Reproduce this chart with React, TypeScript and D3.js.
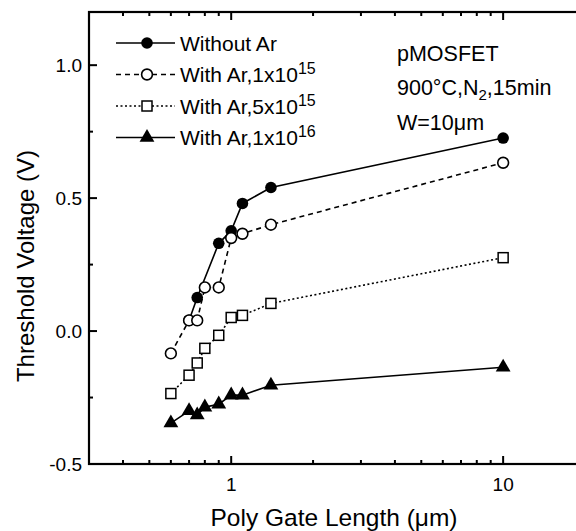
import React from "react";
import * as d3 from "d3";

const lenWithout = [0.7, 0.75, 0.9, 1.0, 1.1, 1.4, 10];
const vtWithout = [0.04, 0.126, 0.33, 0.377, 0.48, 0.54, 0.726];

const lenAr1e15 = [0.6, 0.7, 0.75, 0.8, 0.9, 1.0, 1.1, 1.4, 10];
const vtAr1e15 = [-0.084, 0.04, 0.04, 0.164, 0.164, 0.35, 0.366, 0.4, 0.633];

const lenAr5e15 = [0.6, 0.7, 0.75, 0.8, 0.9, 1.0, 1.1, 1.4, 10];
const vtAr5e15 = [-0.235, -0.166, -0.12, -0.065, -0.016, 0.051, 0.059, 0.104, 0.276];

const lenAr1e16 = [0.6, 0.7, 0.75, 0.8, 0.9, 1.0, 1.1, 1.4, 10];
const vtAr1e16 = [-0.346, -0.3, -0.316, -0.286, -0.275, -0.241, -0.241, -0.204, -0.136];

const yTicks = [-0.5, 0.0, 0.5, 1.0];
const yMinor = [-0.25, 0.25, 0.75];
const xTicks = [1, 10];
const xMinor = [0.4, 0.5, 0.6, 0.7, 0.8, 0.9, 2, 3, 4, 5, 6, 7, 8, 9];

const legendLabels = ["Without Ar", "With Ar,1x10", "With Ar,5x10", "With Ar,1x10"];
const legendSup = ["", "15", "15", "16"];

const W = 576, H = 531;
const left = 89, right = 585, top = 12, bottom = 464;
const font = "'Liberation Sans', Arial, sans-serif";

export default function App() {
  const x = d3.scaleLog().domain([0.3, 20]).range([left, right]);
  const y = d3.scaleLinear().domain([-0.5, 1.2]).range([bottom, top]);
  const line = d3.line<[number, number]>().x(d => x(d[0])).y(d => y(d[1]));

  const series = [
    { L: lenWithout, V: vtWithout, marker: "fcircle", dash: "none" },
    { L: lenAr1e15, V: vtAr1e15, marker: "ocircle", dash: "5,4" },
    { L: lenAr5e15, V: vtAr5e15, marker: "square", dash: "2,2.5" },
    { L: lenAr1e16, V: vtAr1e16, marker: "triangle", dash: "none" },
  ];

  const marker = (type: string, cx: number, cy: number, key: any) => {
    if (type === "fcircle") return <circle key={key} cx={cx} cy={cy} r={5.8} fill="#000" />;
    if (type === "ocircle") return <circle key={key} cx={cx} cy={cy} r={5.4} fill="#fff" stroke="#000" strokeWidth={1.6} />;
    if (type === "square") return <rect key={key} x={cx - 5} y={cy - 5} width={10} height={10} fill="#fff" stroke="#000" strokeWidth={1.5} />;
    const tri = d3.symbol().type(d3.symbolTriangle).size(95)();
    return <path key={key} d={tri as string} transform={`translate(${cx},${cy})`} fill="#000" />;
  };

  return (
    <svg width={W} height={H} style={{ position: "absolute", left: 0, top: 0, background: "#fff" }} fontFamily={font}>
      <rect x={0} y={0} width={W} height={H} fill="#fff" />
      {series.map((s, i) => (
        <path key={"l" + i} d={line(s.L.map((l, j) => [l, s.V[j]] as [number, number])) as string}
          fill="none" stroke="#000" strokeWidth={1.6} strokeDasharray={s.dash} />
      ))}
      {series.map((s, i) => s.L.map((l, j) => marker(s.marker, x(l), y(s.V[j]), `m${i}-${j}`)))}

      <rect x={left} y={top} width={right - left} height={bottom - top} fill="none" stroke="#000" strokeWidth={2.2} />
      {yTicks.map(t => (
        <g key={"yt" + t}>
          <line x1={left} x2={left + 8} y1={y(t)} y2={y(t)} stroke="#000" strokeWidth={2} />
          <line x1={right} x2={right - 8} y1={y(t)} y2={y(t)} stroke="#000" strokeWidth={2} />
          <text x={left - 7} y={y(t)} dy="0.35em" textAnchor="end" fontSize={19}>{t.toFixed(1)}</text>
        </g>
      ))}
      {yMinor.map(t => (
        <g key={"ym" + t}>
          <line x1={left} x2={left + 4} y1={y(t)} y2={y(t)} stroke="#000" strokeWidth={2} />
          <line x1={right} x2={right - 4} y1={y(t)} y2={y(t)} stroke="#000" strokeWidth={2} />
        </g>
      ))}
      {xTicks.map(t => (
        <g key={"xt" + t}>
          <line x1={x(t)} x2={x(t)} y1={bottom} y2={bottom - 8} stroke="#000" strokeWidth={2} />
          <line x1={x(t)} x2={x(t)} y1={top} y2={top + 8} stroke="#000" strokeWidth={2} />
          <text x={x(t)} y={bottom + 20} dy="0.35em" textAnchor="middle" fontSize={19}>{String(t)}</text>
        </g>
      ))}
      {xMinor.map(t => (
        <g key={"xm" + t}>
          <line x1={x(t)} x2={x(t)} y1={bottom} y2={bottom - 4} stroke="#000" strokeWidth={2} />
          <line x1={x(t)} x2={x(t)} y1={top} y2={top + 4} stroke="#000" strokeWidth={2} />
        </g>
      ))}

      <text x={334} y={526} textAnchor="middle" fontSize={24.5}>Poly Gate Length (μm)</text>
      <text transform={`translate(34, 266) rotate(-90)`} textAnchor="middle" fontSize={24}>Threshold Voltage (V)</text>

      {series.map((s, i) => {
        const ly = 43 + i * 31.5;
        return (
          <g key={"lg" + i}>
            <line x1={116} x2={175} y1={ly} y2={ly} stroke="#000" strokeWidth={1.6} strokeDasharray={s.dash} />
            {marker(s.marker, 147, ly, "lm" + i)}
            <text x={180} y={ly} dy="0.36em" fontSize={21}>
              {legendLabels[i]}
              {legendSup[i] && <tspan dy="-8" fontSize={16}>{legendSup[i]}</tspan>}
            </text>
          </g>
        );
      })}

      <text x={397} y={53} dy="0.36em" fontSize={21.5}>pMOSFET</text>
      <text x={397} y={87} dy="0.36em" fontSize={21.5}>
        900°C,N<tspan dy="5" fontSize={15}>2</tspan><tspan dy="-5">,15min</tspan>
      </text>
      <text x={397} y={122} dy="0.36em" fontSize={21.5}>W=10μm</text>
    </svg>
  );
}
